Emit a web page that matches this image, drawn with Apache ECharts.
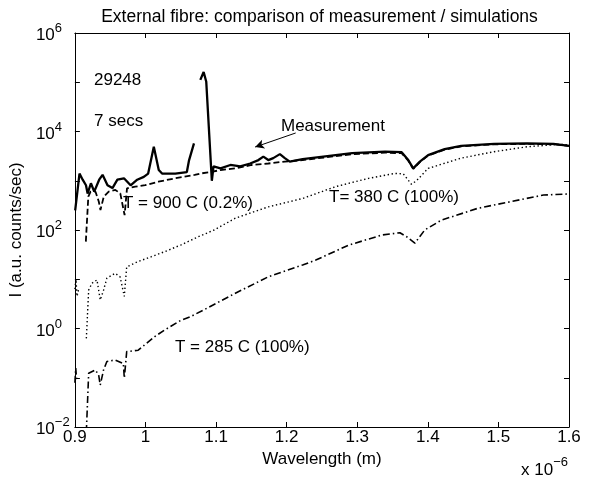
<!DOCTYPE html>
<html>
<head>
<meta charset="utf-8">
<script src="https://cdn.jsdelivr.net/npm/echarts@6/dist/echarts.min.js"></script>
<style>html,body{margin:0;padding:0;background:#fff}#c{width:594px;height:482px}</style>
</head>
<body>
<div id="c"></div>
<script>
// Wavelength in units of 1e-6 m, intensity in a.u. counts/sec
var measWl = [0.9004,0.9065,0.9110,0.9157,0.9180,0.9227,0.9274,0.9344,0.9392,0.9462,0.9532,0.9602,0.9695,0.9789,0.9883,0.9976,1.0038,1.0118,1.0188,1.0235,1.0422,1.0586,1.0617,1.0687,1.0728,1.0777,1.0824,1.0861,1.0940,1.0964,1.1063,1.1203,1.1343,1.1483,1.1600,1.1670,1.1740,1.1810,1.1904,1.1974,1.2044,1.2226,1.2694,1.2928,1.3395,1.3629,1.3723,1.3793,1.3887,1.4004,1.4238,1.4472,1.4939,1.5407,1.5780,1.6000];
var measVal = [250,1400,1050,810,550,890,600,1050,1320,810,710,1050,1120,810,1050,1200,1400,4900,1660,1400,1400,1500,2600,5750,null,112000,162000,102000,1000,1950,1780,2090,1950,2240,2630,3090,2630,2880,3470,2880,2450,2750,3310,3630,3890,3800,2630,1780,2450,3310,4370,5130,5620,5750,5620,5130];

var t900Wl = [0.9155,0.9190,0.9222,0.9292,0.9339,0.9362,0.9409,0.9479,0.9573,0.9643,0.9704,0.9738,0.9855,0.9996,1.0182,1.0417,1.0697,1.0791,1.0932,1.1063,1.1273,1.1506,1.1740,1.1974,1.2226,1.2694,1.2928,1.3395,1.3629,1.3723,1.3793,1.3887,1.4004,1.4238,1.4472,1.4939,1.5407,1.5780,1.6000];
var t900Val = [58,475,600,600,375,255,475,600,650,555,200,700,760,815,955,1120,1310,1410,1510,1650,1780,2090,2240,2450,2630,3160,3470,3720,3630,2570,1740,2400,3240,4270,5010,5500,5620,5500,5130];

var t380Wl = [0.9000,0.9015,0.9030,0.9050,0.9100,0.9162,0.9195,0.9242,0.9313,0.9359,0.9406,0.9453,0.9570,0.9640,0.9700,0.9734,0.9897,1.0085,1.0272,1.0506,1.0739,1.0973,1.1273,1.1740,1.2226,1.2694,1.3161,1.3535,1.3652,1.3768,1.3839,1.4004,1.4472,1.4939,1.5407,1.5874,1.6000];
var t380Val = [6.3,10,4.5,6.0,null,0.63,6.0,8.3,9.7,3.8,6.0,10.5,13.2,11.2,4.5,17.8,22.9,28.8,36.3,50,72,100,174,295,437,760,1120,1410,1380,850,1000,1780,2880,3890,4900,5500,5370];

var t285Wl = [0.9000,0.9012,0.9025,0.9100,0.9162,0.9195,0.9289,0.9336,0.9359,0.9406,0.9453,0.9570,0.9686,0.9700,0.9734,0.9897,1.0015,1.0131,1.0272,1.0506,1.0637,1.0824,1.1273,1.1740,1.2226,1.2413,1.2881,1.3349,1.3605,1.3700,1.3816,1.3956,1.4190,1.4705,1.5172,1.5639,1.5967,1.6000];
var t285Val = [0.079,0.158,0.089,null,0.0079,0.123,0.144,0.115,0.071,0.144,0.214,0.23,0.195,0.098,0.339,0.363,0.50,0.684,0.933,1.48,1.74,2.38,5.2,11.2,19.5,24.5,49.5,79,88,73,54,100,158,275,376,513,537,540];

var xTicks = [0.9,1.0,1.1,1.2,1.3,1.4,1.5,1.6];
var arrowFrom = [1.2128, 9330];
var arrowTo = [1.1553, 4840];

var FONT = '"Liberation Sans", Arial, Helvetica, sans-serif';

function pairs(wl, val) {
  return wl.map(function (w, i) { return [w, val[i] === null ? '-' : val[i]]; });
}

var chart = echarts.init(document.getElementById('c'));
var tickCommon = {show: true, inside: true, length: 5, lineStyle: {color: '#000', width: 1}};
var lineCommon = {show: true, onZero: false, lineStyle: {color: '#000', width: 1}};

chart.setOption({
  animation: false,
  backgroundColor: '#fff',
  grid: {left: 70, right: 25, top: 33, bottom: 55, containLabel: false},
  xAxis: [{
    type: 'value', min: xTicks[0], max: xTicks[xTicks.length - 1], interval: 0.1,
    position: 'bottom',
    axisLine: lineCommon, axisTick: tickCommon, splitLine: {show: false},
    axisLabel: {
      margin: 2, color: '#000', fontSize: 17, fontFamily: FONT,
      formatter: function (v) { return String(Number(v.toFixed(1))); }
    },
    name: 'Wavelength (m)', nameLocation: 'middle', nameGap: 22,
    nameTextStyle: {color: '#000', fontSize: 17, fontFamily: FONT}
  }, {
    type: 'value', min: xTicks[0], max: xTicks[xTicks.length - 1], interval: 0.1,
    position: 'top',
    axisLine: lineCommon, axisTick: tickCommon, splitLine: {show: false},
    axisLabel: {show: false}
  }],
  yAxis: [{
    type: 'log', logBase: 10, min: 0.01, max: 1e6, interval: 1,
    position: 'left',
    axisLine: lineCommon, axisTick: tickCommon, splitLine: {show: false}, minorTick: {show: false},
    axisLabel: {
      margin: 39, align: 'left', color: '#000',
      formatter: function (v) {
        var e = Math.round(Math.log10(v));
        if (e % 2 !== 0) return '';
        return '{b|10}{e|' + (e < 0 ? '\u2212' + (-e) : e) + '}';
      },
      rich: {
        b: {fontSize: 17, fontFamily: FONT, color: '#000', padding: [5, 0, 0, 0], verticalAlign: 'bottom'},
        e: {fontSize: 13, fontFamily: FONT, color: '#000', verticalAlign: 'top'}
      }
    },
    name: 'I (a.u. counts/sec)', nameLocation: 'middle', nameGap: 42,
    nameTextStyle: {color: '#000', fontSize: 17, fontFamily: FONT}
  }, {
    type: 'log', logBase: 10, min: 0.01, max: 1e6, interval: 1,
    position: 'right',
    axisLine: lineCommon, axisTick: tickCommon, splitLine: {show: false},
    axisLabel: {show: false}
  }],
  series: [{
    name: 'T = 285 C (100%)', type: 'line', data: pairs(t285Wl, t285Val),
    showSymbol: false, symbol: 'none', connectNulls: false,
    lineStyle: {color: '#000', width: 1.6, type: [7, 3, 1.5, 3]}
  }, {
    name: 'T = 380 C (100%)', type: 'line', data: pairs(t380Wl, t380Val),
    showSymbol: false, symbol: 'none', connectNulls: false,
    lineStyle: {color: '#000', width: 1.4, type: [1.4, 2.6]}
  }, {
    name: 'T = 900 C (0.2%)', type: 'line', data: pairs(t900Wl, t900Val),
    showSymbol: false, symbol: 'none', connectNulls: false,
    lineStyle: {color: '#000', width: 1.8, type: [6, 3]}
  }, {
    name: 'Measurement', type: 'line', data: pairs(measWl, measVal),
    showSymbol: false, symbol: 'none', connectNulls: false,
    lineStyle: {color: '#000', width: 2.3},
    markLine: {
      silent: true, symbol: ['none', 'arrow'], symbolSize: [7, 9],
      label: {show: false},
      lineStyle: {color: '#000', width: 1, type: 'solid'},
      data: [[{coord: arrowFrom}, {coord: arrowTo}]]
    }
  }],
  graphic: [
    {type: 'text', x: 319.5, y: 17, style: {text: 'External fibre: comparison of measurement / simulations', font: '17.5px ' + FONT, fill: '#000', align: 'center', verticalAlign: 'middle', textAlign: 'center', textVerticalAlign: 'middle'}},
    {type: 'text', x: 94, y: 80, style: {text: '29248', font: '17px ' + FONT, fill: '#000', verticalAlign: 'middle', textVerticalAlign: 'middle'}},
    {type: 'text', x: 94, y: 121, style: {text: '7 secs', font: '17px ' + FONT, fill: '#000', verticalAlign: 'middle', textVerticalAlign: 'middle'}},
    {type: 'text', x: 281, y: 126, style: {text: 'Measurement', font: '17px ' + FONT, fill: '#000', verticalAlign: 'middle', textVerticalAlign: 'middle'}},
    {type: 'text', x: 123, y: 203, style: {text: 'T = 900 C (0.2%)', font: '17px ' + FONT, fill: '#000', verticalAlign: 'middle', textVerticalAlign: 'middle'}},
    {type: 'text', x: 329, y: 197, style: {text: 'T= 380 C (100%)', font: '17px ' + FONT, fill: '#000', verticalAlign: 'middle', textVerticalAlign: 'middle'}},
    {type: 'text', x: 175, y: 347, style: {text: 'T = 285 C (100%)', font: '17px ' + FONT, fill: '#000', verticalAlign: 'middle', textVerticalAlign: 'middle'}},
    {type: 'text', x: 521, y: 467, style: {
      text: '{b|x 10}{e|\u22126}', verticalAlign: 'middle', textVerticalAlign: 'middle',
      rich: {
        b: {fontSize: 17, fontFamily: FONT, fill: '#000', color: '#000', padding: [6, 0, 0, 0], verticalAlign: 'bottom'},
        e: {fontSize: 13, fontFamily: FONT, fill: '#000', color: '#000', verticalAlign: 'top'}
      }
    }}
  ]
});
</script>
</body>
</html>
